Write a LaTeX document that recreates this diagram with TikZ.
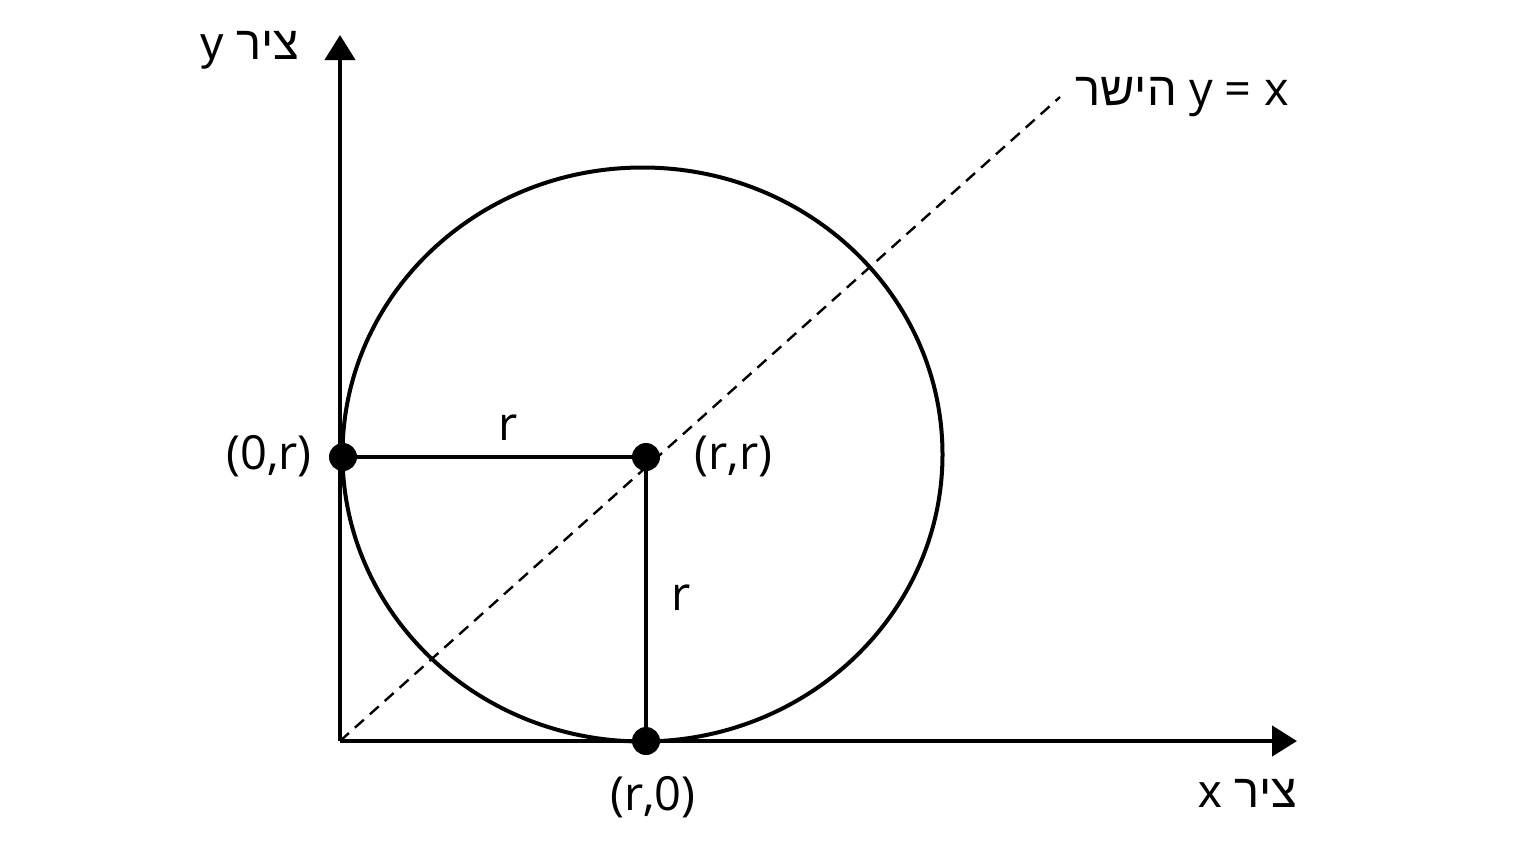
\documentclass[tikz,border=0pt]{standalone}
\usepackage{fontspec}
\setmainfont{Open Sans}
\newfontfamily\hebfont[Script=Hebrew]{Liberation Sans}
\TeXXeTstate=1
\usetikzlibrary{arrows.meta}
\tikzset{
  axis/.style={line width=2.2pt,-{Triangle[length=12.5pt,width=15pt]}},
  radline/.style={line width=1.7pt},
  dot/.style={circle,fill=black,inner sep=0pt,minimum size=14pt},
  lbl/.style={font=\fontsize{23.5}{28}\selectfont,inner sep=0pt},
}
\begin{document}
\begin{tikzpicture}[x=0.5pt,y=-0.5pt]
\useasboundingbox (0,0) rectangle (1536,864);
\fill[white] (0,0) rectangle (1536,864);
\coordinate (O) at (340,741);
\coordinate (Ytip) at (340,35);
\coordinate (Xtip) at (1297,741);
\coordinate (Dend) at (1060,97);
% dashed line y = x
\draw[line width=1.2pt,dash pattern=on 6pt off 4pt] (O) -- (Dend);
% circle
\draw[line width=2pt] (642.5,454.5) ellipse [x radius=300, y radius=287];
% axes
\draw[axis] (O) -- (Ytip);
\draw[axis] (O) -- (Xtip);
% points
\node[dot] (P0r) at (343,457) {};
\node[dot] (Prr) at (646,457) {};
\node[dot] (Pr0) at (646,741) {};
% radii
\draw[radline] (P0r.center) -- (Prr.center);
\draw[radline] (Prr.center) -- (Pr0.center);
% labels
\node[lbl,anchor=east] (L0r) at (312,456) {(0,r)};
\node[lbl,anchor=west] (Lrr) at (694,456) {(r,r)};
\node[lbl] (Lr0) at (653,797) {(r,0)};
\node[lbl] (Rtop) at (508,428) {r};
\node[lbl] (Rside) at (681,598) {r};
\node[lbl,anchor=east] (Ylab) at (300,50) {{\hebfont\beginR ציר \beginL y\endL\endR}};
\node[lbl,anchor=east] (Xlab) at (1298,793) {{\hebfont\beginR ציר \beginL x\endL\endR}};
\node[lbl,anchor=west] (Dlab) at (1075,97) {{\hebfont\beginR הישר\endR} y = x};
\end{tikzpicture}
\end{document}
